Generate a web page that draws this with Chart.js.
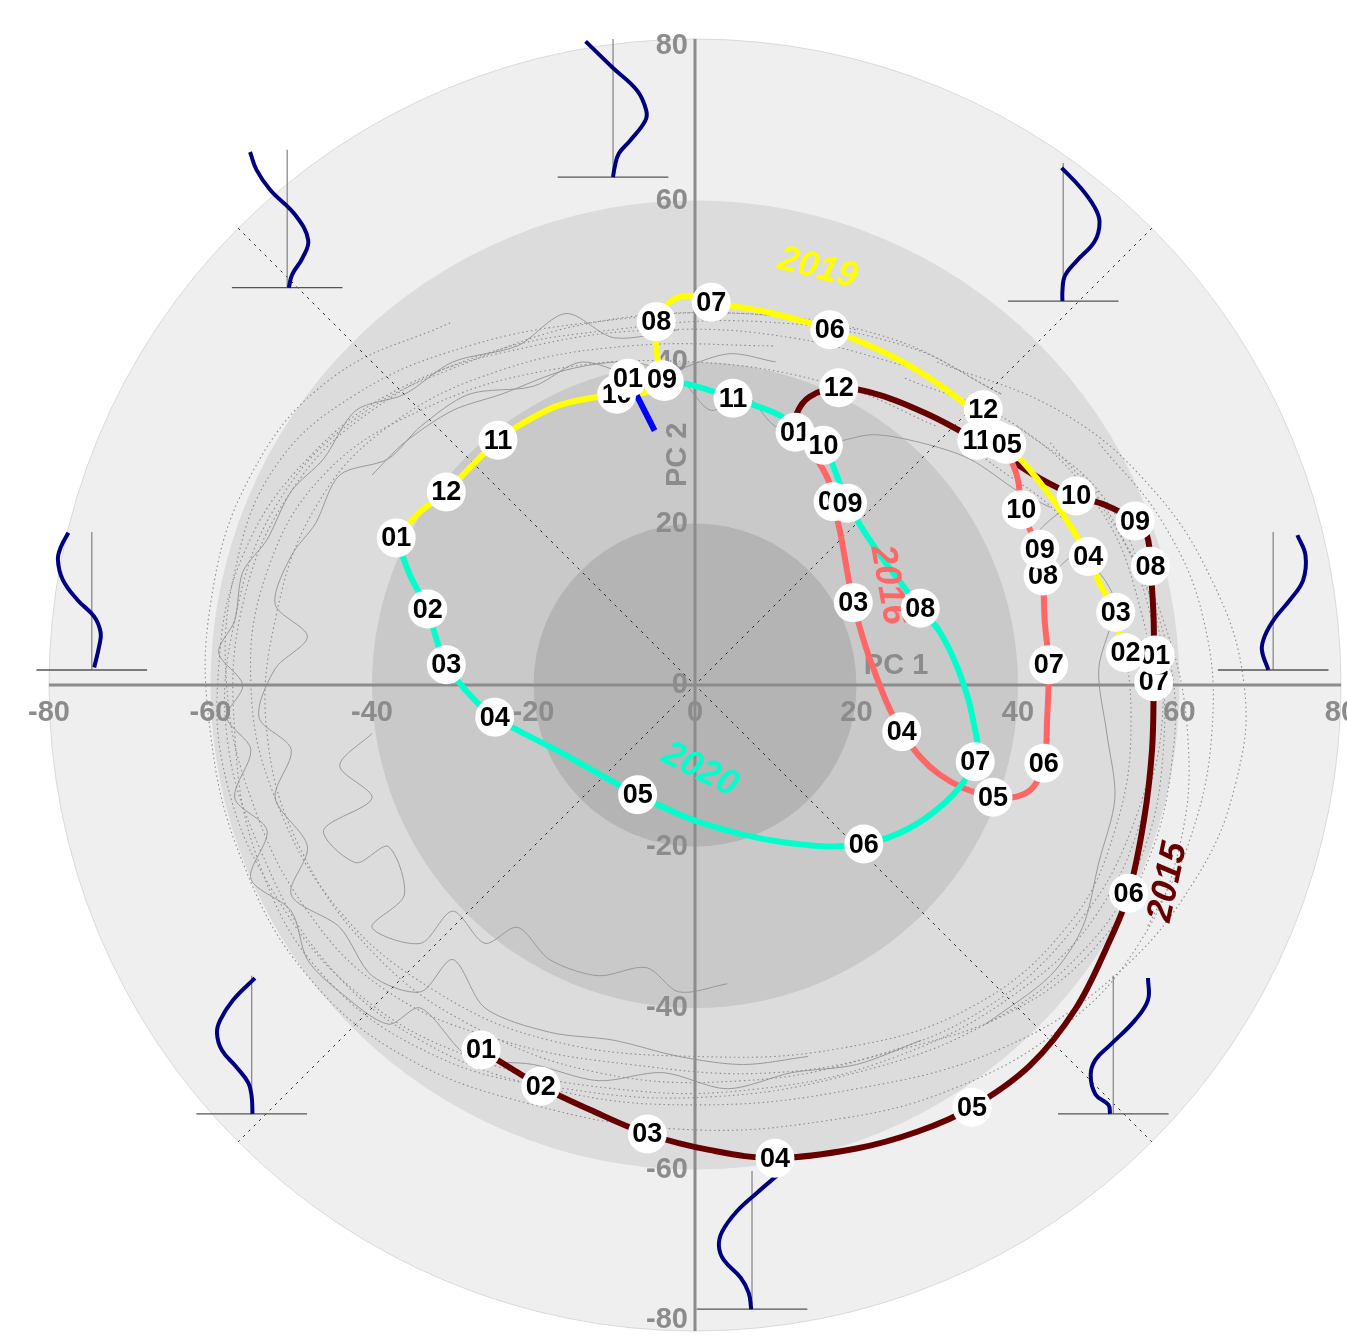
<!DOCTYPE html>
<html>
<head>
<meta charset="utf-8">
<title>PC1 / PC2 phase diagram</title>
<script src="https://cdn.jsdelivr.net/npm/chart.js@4.4.1/dist/chart.umd.min.js"></script>
<style>
  html, body { margin: 0; padding: 0; background: #ffffff; }
  canvas { display: block; }
</style>
</head>
<body>
<canvas id="phase" width="1347" height="1335"></canvas>
<script>
// ---------- data (PC 1 / PC 2 coordinates) ----------
const axisTicks = [-80, -60, -40, -20, 0, 20, 40, 60, 80];
const ringRadii = [80, 60, 40, 20];

// Monthly trajectories: [PC1, PC2, month label (optional)]
const path2015 = [
  [-26.5, -45.2, '01'], [-22.9, -47.4], [-19.1, -49.7, '02'], [-13.0, -52.6], [-5.9, -55.6, '03'],
  [1.9, -57.6], [9.9, -58.6, '04'], [20.0, -57.4], [27.6, -55.3], [34.3, -52.3, '05'],
  [41.5, -47.1], [47.2, -40.0], [51.2, -32.0], [53.7, -25.8, '06'], [55.6, -16.7],
  [56.6, -8.0], [56.8, 0.4, '07'], [56.8, 8.0], [56.4, 14.7, '08'], [56.0, 18.4],
  [54.5, 20.3, '09'], [50.8, 22.3], [47.2, 23.4, '10'], [42.7, 25.6], [39.0, 27.9],
  [34.9, 30.3, '11'], [29.1, 33.4], [22.9, 35.9], [17.8, 36.8, '12'], [14.2, 35.7],
  [12.6, 33.6], [12.4, 31.3]
];
const path2016 = [
  [12.4, 31.3, '01'], [14.9, 28.2], [16.5, 25.4], [17.1, 22.7, '02'], [18.0, 18.8],
  [18.6, 15.5], [19.6, 10.2, '03'], [21.7, 3.1], [25.6, -5.8, '04'], [30.3, -11.1],
  [36.9, -13.9, '05'], [41.3, -13.2], [43.2, -9.7, '06'], [43.6, -4.3], [43.8, 2.5, '07'],
  [43.3, 8.0], [43.1, 13.5, '08'], [42.7, 16.8, '09'], [41.5, 19.2], [40.4, 21.7, '10'],
  [40.0, 25.4], [38.8, 28.5], [37.4, 30.3, '11'], [36.2, 32.2], [35.7, 34.1, '12']
];
const path2019 = [
  [57.0, 3.7, '01'], [53.3, 4.0, '02'], [52.6, 6.2], [52.1, 9.0, '03'], [50.2, 12.4],
  [48.7, 15.9, '04'], [45.2, 21.7], [41.5, 26.6], [38.6, 29.8, '05'], [32.8, 35.3],
  [25.4, 40.2], [16.7, 44.0, '06'], [9.3, 46.1], [2.0, 47.4, '07'], [-0.9, 48.2],
  [-3.1, 47.4], [-4.8, 45.0, '08'], [-4.7, 40.9], [-4.1, 37.8, '09'], [-6.2, 36.2],
  [-9.7, 36.0, '10'], [-16.7, 34.7], [-21.7, 32.2], [-24.4, 30.3, '11'], [-27.9, 26.9],
  [-30.8, 23.9, '12'], [-34.1, 21.4], [-37.0, 18.2]
];
const path2020 = [
  [-37.0, 18.2, '01'], [-35.3, 13.6], [-33.1, 9.4, '02'], [-32.0, 5.6], [-30.8, 2.5, '03'],
  [-27.9, -1.2], [-24.8, -4.0, '04'], [-16.7, -8.3], [-7.1, -13.6, '05'], [0.6, -17.0],
  [10.5, -19.4], [20.9, -19.7, '06'], [29.1, -16.1], [34.7, -9.5, '07'], [34.3, -3.7],
  [32.6, 1.9], [30.3, 6.6], [27.9, 9.5, '08'], [22.5, 16.7], [18.9, 22.5, '09'],
  [17.3, 26.6], [15.9, 29.7, '10'], [10.5, 33.4], [4.7, 35.5, '11'], [-0.6, 37.2],
  [-3.8, 37.6, '12'], [-8.3, 38.0]
];
const path2021 = [[-8.3, 38.0, '01'], [-5.0, 31.5]];

// Other years, plotted as faint background trajectories
const dottedTraces = [
  [[40, 32], [50, 24], [56, 12], [58, 0], [56, -14], [50, -28], [40, -38], [25, -46], [8, -50], [-10, -50], [-28, -46], [-42, -38], [-52, -26], [-58, -12], [-59, 2], [-56, 16], [-48, 28], [-36, 37], [-20, 42], [-4, 44], [12, 43], [28, 39]],
  [[30, 40], [45, 34], [56, 25], [64, 13], [68, 0], [67, -12], [62, -24], [52, -36], [38, -45], [20, -50], [0, -52], [-18, -50], [-34, -44], [-46, -34], [-54, -20], [-58, -6], [-57, 8], [-52, 22], [-42, 33], [-28, 40], [-12, 45], [6, 46], [20, 44]],
  [[36, 28], [46, 20], [52, 8], [54, -4], [52, -18], [46, -30], [34, -40], [18, -45], [0, -46], [-18, -44], [-32, -38], [-44, -28], [-52, -14], [-55, 0], [-53, 14], [-46, 26], [-34, 34], [-18, 39], [0, 40], [18, 37], [30, 32]],
  [[44, 30], [52, 20], [57, 6], [58, -8], [55, -22], [48, -33], [36, -42], [20, -48], [2, -51], [-16, -50], [-32, -46], [-46, -36], [-54, -22], [-57, -6], [-56, 10], [-50, 24], [-40, 34], [-26, 41], [-10, 44], [8, 45], [26, 42], [38, 36]],
  [[48, 26], [55, 14], [59, 2], [59, -10], [56, -22], [50, -32], [40, -40], [26, -45], [10, -48], [-8, -47], [-24, -44], [-38, -38], [-48, -28], [-55, -14], [-58, 0], [-57, 14], [-52, 27], [-42, 36], [-28, 42], [-12, 45], [6, 46], [24, 43], [38, 36]],
  [[26, 38], [40, 32], [50, 22], [55, 10], [57, -4], [54, -18], [47, -30], [36, -40], [22, -46], [6, -49], [-12, -48], [-28, -42], [-40, -33], [-49, -20], [-53, -6], [-52, 8], [-47, 22], [-38, 32], [-24, 39], [-8, 42], [10, 42]],
  [[52, 20], [58, 8], [61, -6], [60, -20], [55, -32], [46, -42], [32, -50], [16, -54], [-2, -55], [-20, -52], [-36, -46], [-48, -36], [-56, -22], [-60, -6], [-60, 10], [-55, 26], [-45, 38], [-30, 45]],
  [[50, 30], [58, 20], [63, 8], [64, -6], [61, -20], [56, -30]]
];
const solidTraces = [
  [[-2, 44], [-10, 43], [-16, 46], [-22, 42], [-30, 40], [-36, 36], [-42, 34], [-46, 28], [-50, 24], [-53, 18], [-56, 14], [-57, 8], [-59, 4], [-56, 0], [-58, -4], [-55, -8], [-57, -14], [-53, -18], [-55, -24], [-50, -28], [-48, -34], [-44, -38], [-38, -42], [-34, -40], [-28, -46], [-20, -47], [-12, -49], [-4, -48], [4, -50], [12, -48], [20, -47], [28, -44]],
  [[10, 40], [4, 41], [-6, 38], [-14, 40], [-20, 37], [-28, 36], [-34, 32], [-38, 28], [-44, 26], [-47, 20], [-50, 16], [-52, 10], [-48, 6], [-52, 2], [-54, -4], [-50, -8], [-52, -14], [-48, -20], [-50, -26], [-44, -30], [-40, -36], [-34, -38], [-30, -34], [-26, -40], [-18, -43], [-10, -44], [-2, -46], [6, -47], [14, -46]],
  [[44, 22], [40, 24], [34, 28], [28, 30], [22, 31], [16, 30], [10, 32], [6, 36], [2, 34], [-2, 38], [-8, 40], [-16, 39], [-24, 36], [-30, 34], [-36, 30], [-40, 26]],
  [[-40, -6], [-44, -10], [-40, -14], [-46, -18], [-42, -22], [-38, -20], [-36, -26], [-40, -30], [-34, -32], [-30, -28], [-26, -32], [-22, -30], [-18, -34], [-12, -36], [-6, -35], [-2, -38], [4, -37]],
  [[36, -42], [44, -36], [48, -30], [50, -22], [52, -14], [51, -6], [50, 2], [52, 10], [50, 14], [47, 16], [44, 14], [42, 18], [46, 22], [50, 24]]
];

// Phase profiles: anchor [PC1, PC2] of each inset, profile as [offset, height]
const profileAnchors = [
  [-10.15, 62.9], [45.6, 47.55], [71.6, 1.86], [51.8, -53.1],
  [7.06, -77.3], [-54.9, -53.1], [-74.7, 1.86], [-50.5, 49.2]
];
const profileCurves = [
  [[-3.4, 16.8], [-0.1, 13.6], [3.0, 10.7], [4.1, 8.3], [4.0, 7.0], [2.1, 4.5], [0.7, 2.9], [0.2, 1.2], [0, 0]],
  [[-0.2, 16.5], [2.1, 14.1], [3.9, 11.6], [4.5, 9.8], [3.9, 7.4], [1.7, 5.0], [0.2, 3.1], [-0.1, 1.2], [-0.1, 0]],
  [[3.0, 16.7], [4.0, 14.2], [3.7, 11.1], [2.1, 8.7], [0.2, 6.4], [-1.0, 4.3], [-1.4, 2.5], [-0.6, 0]],
  [[4.3, 16.8], [4.3, 14.1], [2.7, 11.6], [-0.4, 8.5], [-2.2, 6.7], [-2.8, 4.8], [-2.2, 2.4], [-0.6, 1.1], [-0.4, 0]],
  [[3.4, 16.8], [0.6, 14.4], [-1.9, 12.1], [-3.7, 9.6], [-4.1, 7.8], [-3.5, 6.1], [-1.4, 3.9], [-0.4, 2.0], [-0.1, 0]],
  [[0.4, 16.8], [-2.3, 14.1], [-3.9, 11.6], [-4.3, 10.0], [-3.7, 7.9], [-1.9, 5.8], [-0.4, 3.8], [0, 2.1], [0.1, 0]],
  [[-2.9, 17.0], [-3.8, 15.3], [-4.2, 13.7], [-3.6, 11.2], [-1.8, 8.7], [0.3, 6.6], [1.1, 4.6], [0.9, 2.9], [0.3, 0.3]],
  [[-4.6, 16.8], [-3.8, 14.6], [-2.1, 12.1], [1.0, 9.0], [2.6, 5.9], [1.9, 3.7], [0.6, 1.6], [0.2, 0]]
];

// Year captions placed along the paths: [text, PC1, PC2, rotation in degrees]
const yearCaptions = [
  ['2015', 58.6, -24.4, -78],
  ['2016', 23.9, 12.4, 80],
  ['2019', 15.2, 51.6, 14],
  ['2020', 0.6, -10.5, 27]
];

// ---------- styling ----------
const FONT = '"Liberation Sans", Arial, Helvetica, sans-serif';
const ringFills = ['#efefef', '#dcdcdc', '#c9c9c9', '#b4b4b4'];
const series = [
  { name: '2015', path: path2015, color: '#660000', order: 14 },
  { name: '2016', path: path2016, color: '#ff6666', order: 13 },
  { name: '2019', path: path2019, color: '#ffff00', order: 12 },
  { name: '2020', path: path2020, color: '#00ffcc', order: 11 },
  { name: '2021', path: path2021, color: '#0000ff', order: 10 }
];
const captionColors = { '2015': '#660000', '2016': '#ff6666', '2019': '#ffff00', '2020': '#00ffcc' };
// month badges are stacked in this order (last one on top)
const badgeOrder = ['2016', '2015', '2020', '2019', '2021'];

const toXY = pts => pts.map(p => ({ x: p[0], y: p[1] }));
const baseLine = extra => Object.assign({
  pointRadius: 0, pointHoverRadius: 0, fill: false, clip: false,
  borderJoinStyle: 'round'
}, extra);

const datasets = [];
dottedTraces.forEach(t => datasets.push(baseLine({
  data: toXY(t), borderColor: '#8c8c8c', borderWidth: 1.1, borderDash: [1.5, 3], tension: 0.4, order: 100
})));
solidTraces.forEach(t => datasets.push(baseLine({
  data: toXY(t), borderColor: '#9a9a9a', borderWidth: 1, tension: 0.3, order: 100
})));

const PROFILE_HALF_WIDTH = 6.85, PROFILE_HEIGHT = 17.1;
profileAnchors.forEach((a, i) => {
  const [ax, ay] = a;
  datasets.push(baseLine({
    data: [{ x: ax - PROFILE_HALF_WIDTH, y: ay }, { x: ax + PROFILE_HALF_WIDTH, y: ay }],
    borderColor: '#555555', borderWidth: 1.3, tension: 0, order: 50
  }));
  datasets.push(baseLine({
    data: [{ x: ax, y: ay }, { x: ax, y: ay + PROFILE_HEIGHT }],
    borderColor: '#8a8a8a', borderWidth: 1.3, tension: 0, order: 50
  }));
  datasets.push(baseLine({
    data: profileCurves[i].map(p => ({ x: ax + p[0], y: ay + p[1] })),
    borderColor: '#000080', borderWidth: 4, tension: 0.4, order: 49
  }));
});

series.forEach(s => datasets.push(baseLine({
  label: s.name, data: toXY(s.path), borderColor: s.color, borderWidth: 6,
  tension: 0.35, order: s.order, borderCapStyle: 'butt'
})));

// ---------- drawing helpers ----------
function drawAxes(chart) {
  const { ctx, scales: { x, y } } = chart;
  const cx = x.getPixelForValue(0), cy = y.getPixelForValue(0);
  ctx.save();
  // diagonal guides
  const d = 80 / Math.SQRT2;
  ctx.strokeStyle = '#222';
  ctx.lineWidth = 1;
  ctx.setLineDash([2.5, 5]);
  ctx.beginPath();
  ctx.moveTo(x.getPixelForValue(-d), y.getPixelForValue(d));
  ctx.lineTo(x.getPixelForValue(d), y.getPixelForValue(-d));
  ctx.moveTo(x.getPixelForValue(d), y.getPixelForValue(d));
  ctx.lineTo(x.getPixelForValue(-d), y.getPixelForValue(-d));
  ctx.stroke();
  ctx.setLineDash([]);
  // main axes
  ctx.strokeStyle = '#8c8c8c';
  ctx.lineWidth = 3;
  ctx.beginPath();
  ctx.moveTo(x.getPixelForValue(-80), cy);
  ctx.lineTo(x.getPixelForValue(80), cy);
  ctx.moveTo(cx, y.getPixelForValue(80));
  ctx.lineTo(cx, y.getPixelForValue(-80));
  ctx.stroke();
  // tick labels
  ctx.fillStyle = '#8c8c8c';
  ctx.font = 'bold 29px ' + FONT;
  ctx.textAlign = 'center';
  ctx.textBaseline = 'middle';
  axisTicks.forEach(v => ctx.fillText(String(v), x.getPixelForValue(v), cy + 28));
  ctx.textAlign = 'right';
  const H = chart.height;
  axisTicks.forEach(v => {
    const py = Math.min(Math.max(y.getPixelForValue(v), 46), H - 15);
    ctx.fillText(String(v), cx - 7, py);
  });
  // axis titles
  ctx.textAlign = 'center';
  ctx.fillText('PC 1', x.getPixelForValue(24.9), y.getPixelForValue(2.4));
  ctx.save();
  ctx.translate(x.getPixelForValue(-2.1), y.getPixelForValue(28.5));
  ctx.rotate(-Math.PI / 2);
  ctx.fillText('PC 2', 0, 0);
  ctx.restore();
  ctx.restore();
}

const phasePlot = {
  id: 'phasePlot',
  beforeDatasetsDraw(chart) {
    const { ctx, scales: { x, y } } = chart;
    const cx = x.getPixelForValue(0), cy = y.getPixelForValue(0);
    const unit = x.getPixelForValue(1) - cx;
    ctx.save();
    ringRadii.forEach((r, i) => {
      ctx.beginPath();
      ctx.arc(cx, cy, r * unit, 0, Math.PI * 2);
      ctx.fillStyle = ringFills[i];
      ctx.fill();
      if (i === 0) {
        ctx.strokeStyle = '#d2d2d2';
        ctx.lineWidth = 0.8;
        ctx.stroke();
      }
    });
    ctx.restore();
  },
  afterDatasetDraw(chart, args) {
    // axes sit above the faint trajectories but below the highlighted years
    if (args.index === 0) drawAxes(chart);
  },
  afterDatasetsDraw(chart) {
    const { ctx, scales: { x, y } } = chart;
    ctx.save();
    // year captions
    ctx.font = 'italic bold 36px ' + FONT;
    ctx.textAlign = 'center';
    ctx.textBaseline = 'middle';
    yearCaptions.forEach(([t, vx, vy, rot]) => {
      ctx.save();
      ctx.translate(x.getPixelForValue(vx), y.getPixelForValue(vy));
      ctx.rotate(rot * Math.PI / 180);
      ctx.fillStyle = captionColors[t];
      ctx.fillText(t, 0, 0);
      ctx.restore();
    });
    // month badges
    ctx.font = 'bold 27px ' + FONT;
    badgeOrder.forEach(name => {
      const s = series.find(q => q.name === name);
      s.path.forEach(p => {
        if (!p[2]) return;
        const px = x.getPixelForValue(p[0]), py = y.getPixelForValue(p[1]);
        ctx.beginPath();
        ctx.arc(px, py, 19.5, 0, Math.PI * 2);
        ctx.fillStyle = '#ffffff';
        ctx.fill();
        ctx.fillStyle = '#000000';
        ctx.fillText(p[2], px, py + 1);
      });
    });
    ctx.restore();
  }
};

new Chart(document.getElementById('phase'), {
  type: 'line',
  data: { datasets },
  options: {
    responsive: false,
    animation: false,
    devicePixelRatio: 1,
    events: [],
    layout: { padding: { left: 49, right: 6, top: 39, bottom: 4 } },
    scales: {
      x: { type: 'linear', min: -80, max: 80, display: false },
      y: { type: 'linear', min: -80, max: 80, display: false }
    },
    plugins: { legend: { display: false }, tooltip: { enabled: false } }
  },
  plugins: [phasePlot]
});
</script>
</body>
</html>
